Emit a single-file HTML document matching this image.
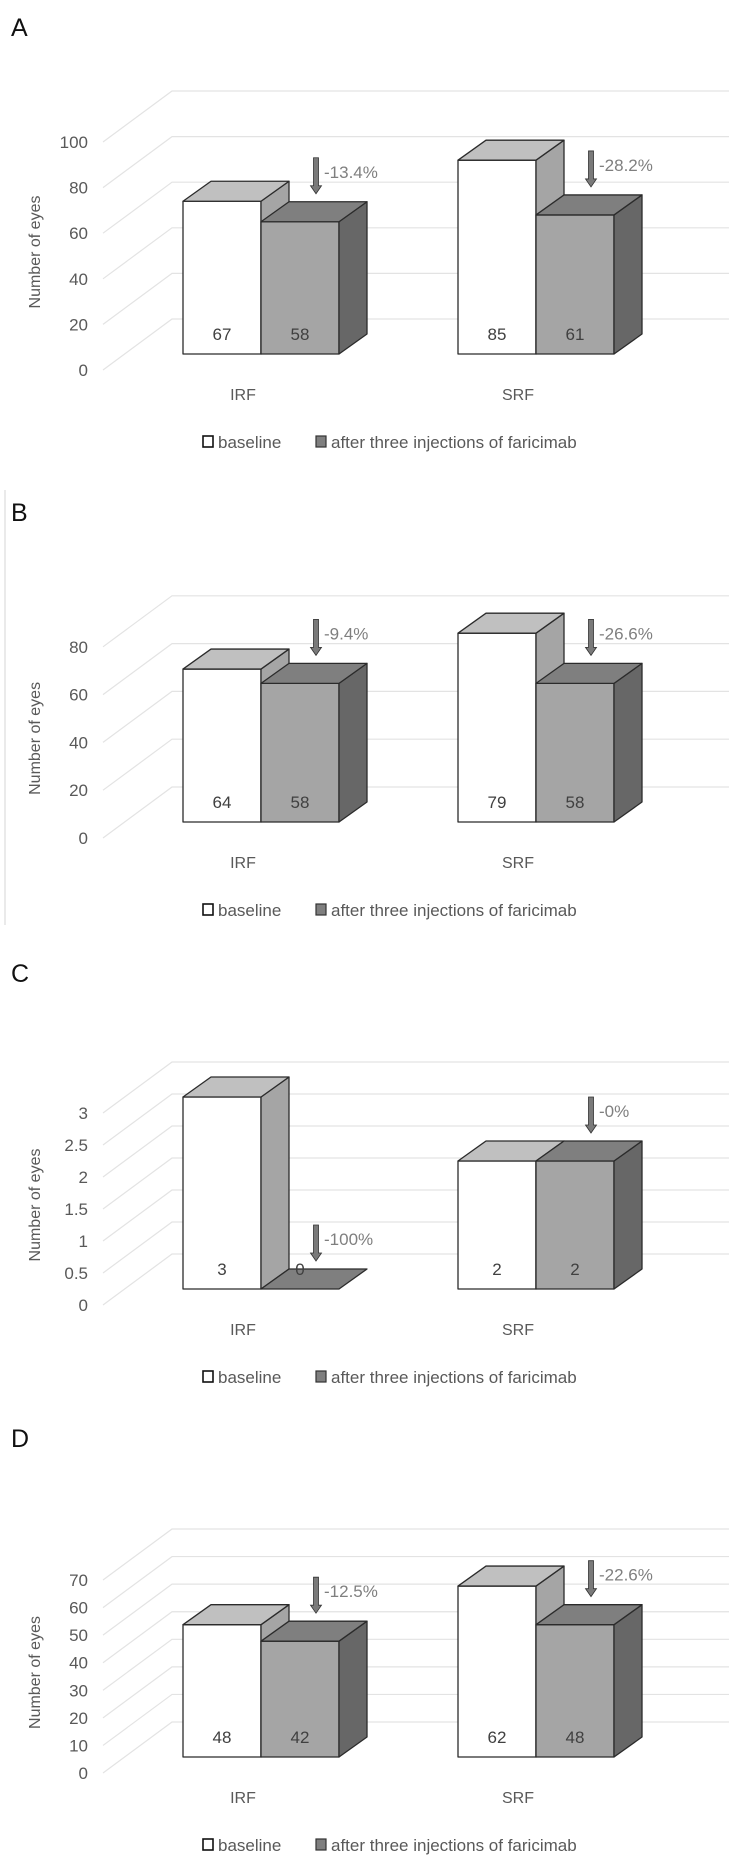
<!DOCTYPE html>
<html><head><meta charset="utf-8">
<style>
html,body{margin:0;padding:0;background:#fff;}
svg{display:block;font-family:"Liberation Sans Narrow","Liberation Sans",sans-serif;}
</style></head>
<body>
<svg id="fig" width="729" height="1860" viewBox="0 0 729 1860" xmlns="http://www.w3.org/2000/svg">
<line x1="5" y1="490" x2="5" y2="925" stroke="#e4e4e4" stroke-width="1.5"/>
</svg>
<script>
// Panel A data
const aCategories = ["IRF", "SRF"];
const aBaseline = [67, 85];
const aAfter = [58, 61];
const aChange = ["-13.4%", "-28.2%"];
const aTicks = [0, 20, 40, 60, 80, 100];
const aTickLabels = ["0", "20", "40", "60", "80", "100"];
// Panel B data
const bCategories = ["IRF", "SRF"];
const bBaseline = [64, 79];
const bAfter = [58, 58];
const bChange = ["-9.4%", "-26.6%"];
const bTicks = [0, 20, 40, 60, 80];
const bTickLabels = ["0", "20", "40", "60", "80"];
// Panel C data
const cCategories = ["IRF", "SRF"];
const cBaseline = [3, 2];
const cAfter = [0, 2];
const cChange = ["-100%", "-0%"];
const cTicks = [0, 0.5, 1, 1.5, 2, 2.5, 3];
const cTickLabels = ["0", "0.5", "1", "1.5", "2", "2.5", "3"];
// Panel D data
const dCategories = ["IRF", "SRF"];
const dBaseline = [48, 62];
const dAfter = [42, 48];
const dChange = ["-12.5%", "-22.6%"];
const dTicks = [0, 10, 20, 30, 40, 50, 60, 70];
const dTickLabels = ["0", "10", "20", "30", "40", "50", "60", "70"];

const NS = "http://www.w3.org/2000/svg";
const svg = document.getElementById("fig");
function mk(tag, attrs, parent, text) {
  const e = document.createElementNS(NS, tag);
  for (const k in attrs) e.setAttribute(k, attrs[k]);
  if (text !== undefined) e.textContent = text;
  (parent || svg).appendChild(e);
  return e;
}
const DX = 28, DY = -20, GDX = 69, GDY = -51, BW = 78;
const groupLeft = [183, 458];

function drawBox(g, x, yb, h, cols) {
  const yt = yb - h;
  const st = {stroke: "#2b2b2b", "stroke-width": 1.3, "stroke-linejoin": "round"};
  if (h > 0) {
    const f = mk("rect", Object.assign({x: x, y: yt, width: BW, height: h, fill: cols[0]}, st), g);
    
    
    const s = mk("polygon", Object.assign({points: `${x+BW},${yb} ${x+BW+DX},${yb+DY} ${x+BW+DX},${yt+DY} ${x+BW},${yt}`, fill: cols[2]}, st), g);
    
    
  }
  const t = mk("polygon", Object.assign({points: `${x},${yt} ${x+DX},${yt+DY} ${x+BW+DX},${yt+DY} ${x+BW},${yt}`, fill: cols[1]}, st), g);
  
  
}

function panel(letter, letterY, y0, ppu, cats, base, after, change, ticks, tickLabels) {
  const g = mk("g", {});
  
  
  const yv = v => y0 - v * ppu;
  const lt = mk("text", {x: 11, y: letterY + 9, "font-size": 25, fill: "#111", "font-family": "Liberation Sans, sans-serif"}, g, letter);
  
  
  ticks.forEach((t, i) => {
    const y = yv(t);
    const gl = mk("polyline", {points: `103,${y} ${103+GDX},${y+GDY} 729,${y+GDY}`, fill: "none", stroke: "#e3e3e3", "stroke-width": 1.2}, g);
    
    
    const tl = mk("text", {x: 88, y: y + 6, "text-anchor": "end", "font-size": 17, fill: "#595959"}, g, tickLabels[i]);
    
    
  });
  const midY = (yv(ticks[0]) + yv(ticks[ticks.length - 1])) / 2 - 4;
  const at = mk("text", {x: 0, y: 0, transform: `translate(40,${midY}) rotate(-90)`, "text-anchor": "middle", "font-size": 16, fill: "#595959", "font-family": "Liberation Sans, sans-serif"}, g, "Number of eyes");
  
  
  const yb = y0 - 16;
  cats.forEach((c, i) => {
    const x = groupLeft[i];
    drawBox(g, x, yb, base[i] * ppu, ["#ffffff", "#c0c0c0", "#a5a5a5"]);
    drawBox(g, x + BW, yb, after[i] * ppu, ["#a5a5a5", "#7f7f7f", "#676767"]);
    const v1 = mk("text", {x: x + BW / 2, y: yb - 14, "text-anchor": "middle", "font-size": 17, fill: "#404040"}, g, String(base[i]));
    
    
    const v2 = mk("text", {x: x + BW * 1.5, y: yb - 14, "text-anchor": "middle", "font-size": 17, fill: "#404040"}, g, String(after[i]));
    
    
    const ax = x + BW + 55;
    const tip = yb - after[i] * ppu + DY - 8;
    const top = tip - 36;
    const ar = mk("polygon", {points: `${ax-2.5},${top} ${ax+2.5},${top} ${ax+2.5},${tip-8} ${ax+5.5},${tip-8} ${ax},${tip} ${ax-5.5},${tip-8} ${ax-2.5},${tip-8}`, fill: "#7a7a7a", stroke: "#333", "stroke-width": 0.8}, g);
    
    
    const ct = mk("text", {x: ax + 8, y: tip - 16, "font-size": 17, fill: "#7f7f7f"}, g, change[i]);
    
    
    const cl = mk("text", {x: x + 60, y: y0 + 30, "text-anchor": "middle", "font-size": 16, fill: "#595959"}, g, c);
    
    
  });
  const ly = y0 + 72;
  const lg = mk("g", {}, g);
  
  
  const b1 = mk("rect", {x: 203, y: ly - 6, width: 10, height: 11, fill: "#fff", stroke: "#111", "stroke-width": 1.6}, lg);
  
  
  const t1 = mk("text", {x: 218, y: ly + 6, "font-size": 17, fill: "#595959"}, lg, "baseline");
  
  
  const b2 = mk("rect", {x: 316, y: ly - 6, width: 10, height: 11, fill: "#7f7f7f", stroke: "#333", "stroke-width": 1.2}, lg);
  
  
  const t2 = mk("text", {x: 331, y: ly + 6, "font-size": 17, fill: "#595959"}, lg, "after three injections of faricimab");
  
  
}

panel("A", 27, 370, 2.28, aCategories, aBaseline, aAfter, aChange, aTicks, aTickLabels);
panel("B", 512, 838, 2.39, bCategories, bBaseline, bAfter, bChange, bTicks, bTickLabels);
panel("C", 973, 1305, 64, cCategories, cBaseline, cAfter, cChange, cTicks, cTickLabels);
panel("D", 1438, 1773, 2.757, dCategories, dBaseline, dAfter, dChange, dTicks, dTickLabels);
</script>
</body></html>
